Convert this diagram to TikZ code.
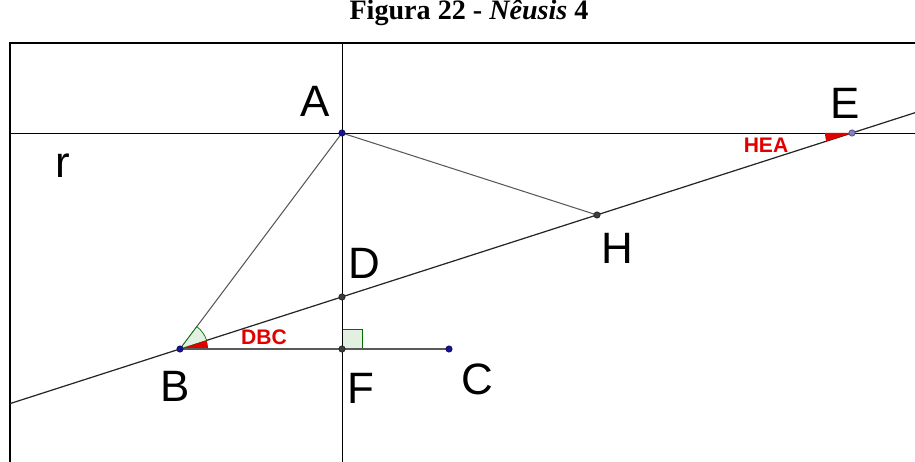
\documentclass[tikz,border=0pt]{standalone}
\usepackage{fontspec}
\setmainfont{Liberation Serif}
\setsansfont{Liberation Sans}
\usetikzlibrary{positioning}

\definecolor{ptblue}{RGB}{20,20,150}
\definecolor{ptlight}{RGB}{130,130,200}
\definecolor{ptgray}{RGB}{60,60,60}
\definecolor{angred}{RGB}{225,0,0}
\definecolor{anggreen}{RGB}{0,110,0}
\definecolor{angfill}{RGB}{226,240,226}

\begin{document}
\begin{tikzpicture}[
    x=0.02cm, y=-0.02cm,
    ptlabel/.style={font=\sffamily\fontsize{25}{25}\selectfont, inner sep=0pt},
    anglabel/.style={font=\sffamily\bfseries\fontsize{12}{12}\selectfont, text=angred, inner sep=0pt},
    point/.style={circle, inner sep=0pt, minimum size=3.6pt, draw=#1!60!black, fill=#1},
    frame/.style={line width=1.5pt},
    guide/.style={line width=0.5pt, black},
    segment/.style={line width=0.6pt, black!65},
    angfilled/.style={fill=angfill, draw=anggreen, line width=0.4pt}
]
\useasboundingbox (0,0) rectangle (915,462);

% title
\node (title) [anchor=base, font=\bfseries\fontsize{16}{16}\selectfont] at (469,20) {Figura 22 - \textit{Nêusis} 4};

% frame and guide lines
\coordinate (fBL) at (10,462);
\coordinate (fTL) at (10,43);
\coordinate (fTR) at (915,43);
\coordinate (vT) at (342,43);
\coordinate (vB) at (342,462);
\coordinate (hL) at (10,133);
\coordinate (hR) at (915,133);
\coordinate (sL) at (10,403.6);
\coordinate (sR) at (915,112.7);

% points
\coordinate (A) at (342,133);
\coordinate (E) at (852,133);
\coordinate (H) at (597,215);
\coordinate (D) at (342,297);
\coordinate (B) at (180,349);
\coordinate (F) at (342,349);
\coordinate (C) at (449,349);

\draw [frame] (fBL) -- (fTL) -- (fTR);
\draw [guide] (vT) -- (vB);
\draw [guide] (hL) -- (hR);
\draw [line width=0.7pt, black!85] (sL) -- (sR);
\draw [segment] (A) -- (B);
\draw [segment] (A) -- (H);
\draw [segment] (B) -- (C);

% angles
\draw [angfilled] (B) -- ++(-17.82:28) arc[start angle=-17.82, end angle=-53.13, radius=28] -- cycle;
\fill [angred] (B) -- ++(0:28) arc[start angle=0, end angle=-17.82, radius=28] -- cycle;
\fill [angred] (E) -- ++(180:27) arc[start angle=180, end angle=162.18, radius=27] -- cycle;
\draw [angfilled] (F) rectangle ++(20,-20);
\draw [segment] (B) -- (C);
\draw [guide] (F) -- ++(0,-20);

\node (pA) [point=ptblue] at (A) {};
\node (pB) [point=ptblue] at (B) {};
\node (pC) [point=ptblue] at (C) {};
\node (pE) [point=ptlight] at (E) {};
\node (pD) [point=ptgray] at (D) {};
\node (pF) [point=ptgray] at (F) {};
\node (pH) [point=ptgray] at (H) {};

% labels
\node (lA) [ptlabel] at (315,101) {A};
\node (lE) [ptlabel] at (845,103) {E};
\node (lr) [ptlabel] at (63,166) {r};
\node (lD) [ptlabel] at (364,263) {D};
\node (lH) [ptlabel] at (617,248) {H};
\node (lB) [ptlabel] at (175,386) {B};
\node (lF) [ptlabel] at (361,388) {F};
\node (lC) [ptlabel] at (477,379) {C};
\node (lDBC) [anglabel] at (264,337) {DBC};
\node (lHEA) [anglabel] at (766,145) {HEA};

\end{tikzpicture}
\end{document}
